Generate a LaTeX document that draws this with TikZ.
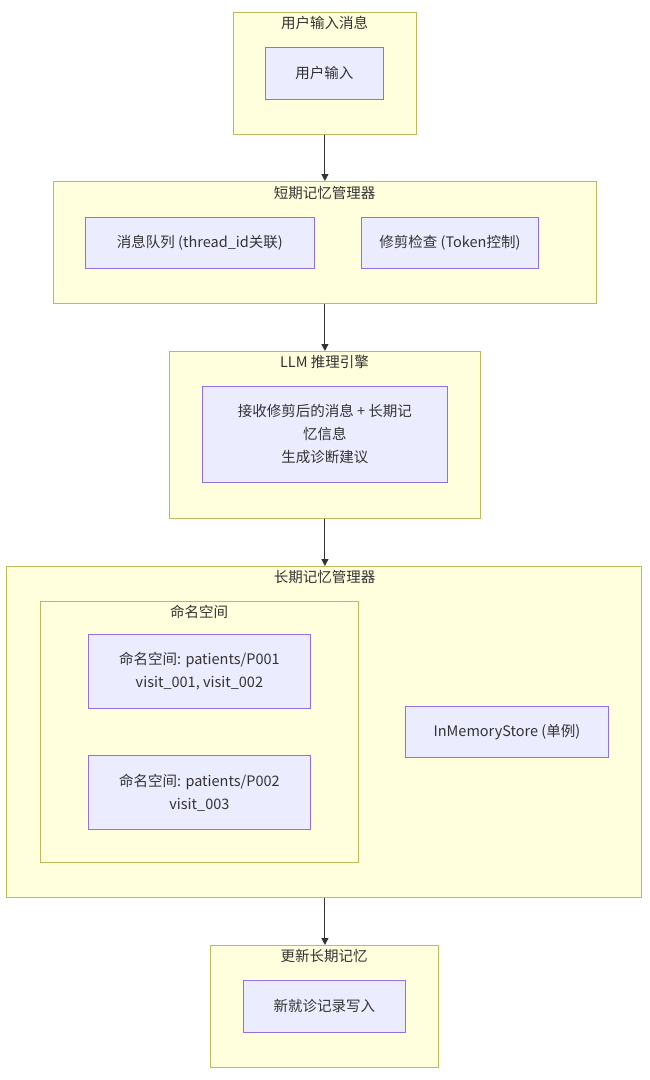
\documentclass[tikz,border=0pt]{standalone}
\usepackage{fontspec}
\setmainfont{Noto Sans CJK SC}
\usetikzlibrary{arrows.meta}
\definecolor{clfill}{HTML}{FFFFDE}
\definecolor{clline}{HTML}{AAAA33}
\definecolor{ndfill}{HTML}{ECECFF}
\definecolor{ndline}{HTML}{9370DB}
\definecolor{arr}{HTML}{333333}
\tikzset{
  cluster/.style={draw=clline!80, fill=clfill, line width=0.8pt, inner sep=0pt, anchor=north west},
  box/.style={draw=ndline, fill=ndfill, line width=0.8pt, inner sep=0pt, anchor=north west},
  lbl/.style={font=\fontsize{14.5}{23}\selectfont, text=arr, align=center, inner sep=0pt},
  flow/.style={draw=arr, line width=1pt, -{Triangle[length=7pt,width=7pt]}},
}
\begin{document}
\begin{tikzpicture}[x=1pt,y=-1pt]
\useasboundingbox (0,0) rectangle (649,1080);
\fill[white] (0,0) rectangle (649,1080);

% cluster 1
\node[cluster, minimum width=183pt, minimum height=122pt] (c1) at (233,12) {};
\node[lbl] (t1) at (324.5,23) {用户输入消息};
\node[box, minimum width=118pt, minimum height=52pt] (n1) at (265,47) {};
\node[lbl] at (n1.center) {用户输入};

% cluster 2
\node[cluster, minimum width=543pt, minimum height=122pt] (c2) at (53,181) {};
\node[lbl] (t2) at (324.5,193) {短期记忆管理器};
\node[box, minimum width=229pt, minimum height=51pt] (n2a) at (85,217) {};
\node[lbl] at (n2a.center) {消息队列 (thread\_id关联)};
\node[box, minimum width=177pt, minimum height=51pt] (n2b) at (361,217) {};
\node[lbl] at (n2b.center) {修剪检查 (Token控制)};

% cluster 3
\node[cluster, minimum width=311pt, minimum height=167pt] (c3) at (169,351) {};
\node[lbl] (t3) at (324.5,362) {LLM 推理引擎};
\node[box, minimum width=245pt, minimum height=96pt] (n3) at (202,386) {};
\node[lbl] at (n3.center) {接收修剪后的消息 + 长期记\\忆信息\\生成诊断建议};

% cluster 4
\node[cluster, minimum width=635pt, minimum height=331pt] (c4) at (6,566) {};
\node[lbl] (t4) at (324.5,577) {长期记忆管理器};
\node[cluster, minimum width=318pt, minimum height=261pt] (c4a) at (40,601) {};
\node[lbl] (t4a) at (199,612) {命名空间};
\node[box, minimum width=222pt, minimum height=74pt] (n4a) at (88,634) {};
\node[lbl] at (n4a.center) {命名空间: patients/P001\\visit\_001, visit\_002};
\node[box, minimum width=222pt, minimum height=74pt] (n4b) at (88,755) {};
\node[lbl] at (n4b.center) {命名空间: patients/P002\\visit\_003};
\node[box, minimum width=203pt, minimum height=51pt] (n4c) at (405,706) {};
\node[lbl] at (n4c.center) {InMemoryStore (单例)};

% cluster 5
\node[cluster, minimum width=228pt, minimum height=122pt] (c5) at (210,945) {};
\node[lbl] (t5) at (324,956) {更新长期记忆};
\node[box, minimum width=162pt, minimum height=52pt] (n5) at (243,980) {};
\node[lbl] at (n5.center) {新就诊记录写入};

% connectors
\draw[flow] (c1.south) -- (c2.north);
\draw[flow] (c2.south) -- (c3.north);
\draw[flow] (c3.south) -- (c4.north -| c3.south);
\draw[flow] (c4.south -| c3.south) -- (c5.north -| c3.south);
\end{tikzpicture}
\end{document}
